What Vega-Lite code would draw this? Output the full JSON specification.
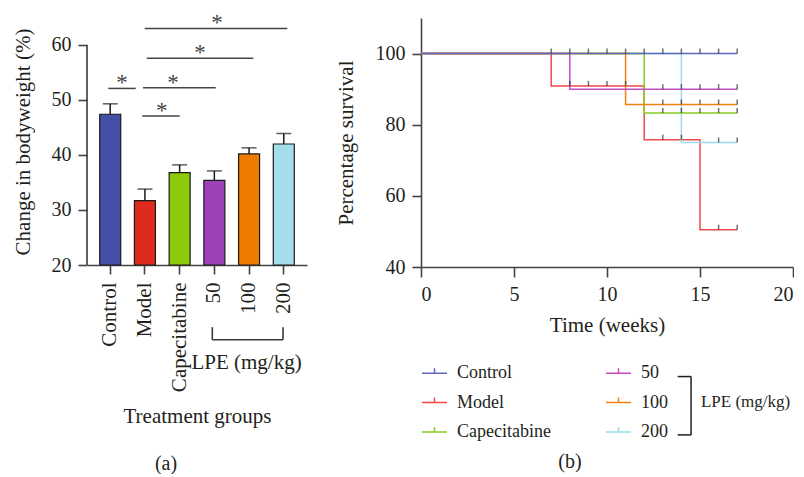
{
  "$schema": "https://vega.github.io/schema/vega-lite/v6.json",
  "padding": {"left": 12, "top": 12, "right": 0, "bottom": 0},
  "background": "white",
  "spacing": 114,
  "bounds": "flush",
  "resolve": {"scale": {"color": "independent"}, "legend": {"color": "independent"}},
  "config": {
    "view": {"stroke": null},
    "font": "Liberation Serif",
    "axis": {
      "labelFont": "Liberation Serif", "titleFont": "Liberation Serif",
      "labelColor": "#231f20", "titleColor": "#231f20",
      "labelFontSize": 20, "titleFontSize": 21, "titleFontWeight": "normal",
      "domainColor": "#444444", "tickColor": "#444444",
      "domainWidth": 1.6, "tickWidth": 1.6, "tickSize": 9, "labelPadding": 7, "grid": false
    },
    "legend": {"labelFont": "Liberation Serif"},
    "title": {"font": "Liberation Serif", "fontSize": 20, "fontWeight": "normal", "color": "#231f20"},
    "text": {"font": "Liberation Serif"}
  },
  "hconcat": [
    {
      "width": 220,
      "height": 247,
      "title": {"text": "(a)", "orient": "bottom", "anchor": "middle", "frame": "group", "dx": -31, "offset": 27},
      "resolve": {"scale": {"x": "independent"}},
      "layer": [
        {
          "data": {"values": [
            {"group": "Control", "mean": 47.4, "upper": 49.3},
            {"group": "Model", "mean": 31.7, "upper": 33.8},
            {"group": "Capecitabine", "mean": 36.8, "upper": 38.2},
            {"group": "50", "mean": 35.4, "upper": 37.1},
            {"group": "100", "mean": 40.2, "upper": 41.3},
            {"group": "200", "mean": 42.0, "upper": 43.9}
          ]},
          "encoding": {
            "x": {
              "field": "group", "type": "nominal", "sort": null,
              "scale": {"domain": ["Control", "Model", "Capecitabine", "50", "100", "200"], "paddingInner": 0.395, "paddingOuter": 0.366},
              "axis": {"title": "Treatment groups", "labelAngle": -90, "labelFontSize": 21, "labelPadding": 8, "titlePadding": 14}
            }
          },
          "layer": [
            {
              "mark": {"type": "bar", "stroke": "#1a1a1a", "strokeWidth": 1.2},
              "encoding": {
                "y": {
                  "field": "mean", "type": "quantitative",
                  "scale": {"domain": [20, 64.9], "nice": false, "zero": false},
                  "axis": {"title": "Change in bodyweight (%)", "values": [20, 30, 40, 50, 60], "domain": false, "titlePadding": 18}
                },
                "y2": {"datum": 20},
                "color": {
                  "field": "group", "type": "nominal",
                  "scale": {"domain": ["Control", "Model", "Capecitabine", "50", "100", "200"], "range": ["#444fa5", "#dd2c1e", "#8dc90c", "#9c41b6", "#ef7b02", "#a5deeb"]},
                  "legend": null
                }
              }
            },
            {
              "mark": {"type": "rule", "color": "#1a1a1a", "strokeWidth": 1.5},
              "encoding": {
                "y": {"field": "mean", "type": "quantitative"},
                "y2": {"field": "upper"}
              }
            },
            {
              "mark": {"type": "tick", "orient": "horizontal", "size": 15, "thickness": 1.5, "color": "#1a1a1a"},
              "encoding": {
                "y": {"field": "upper", "type": "quantitative"}
              }
            }
          ]
        },
        {
          "layer": [
            {
              "data": {"values": [
                {"x1": -0.055, "x2": 0.735, "y": 52.1, "sx": 0.34},
                {"x1": 0.925, "x2": 2.003, "y": 47.1, "sx": 1.484},
                {"x1": 0.945, "x2": 3.04, "y": 52.2, "sx": 1.81},
                {"x1": 1.052, "x2": 4.124, "y": 57.6, "sx": 2.588},
                {"x1": 0.994, "x2": 5.104, "y": 63.0, "sx": 3.078}
              ]},
              "layer": [
                {
                  "mark": {"type": "rule", "color": "#444444", "strokeWidth": 1.5},
                  "encoding": {
                    "x": {"field": "x1", "type": "quantitative", "scale": {"domain": [-0.669, 5.671], "nice": false, "zero": false}, "axis": null},
                    "x2": {"field": "x2"},
                    "y": {"field": "y", "type": "quantitative"}
                  }
                },
                {
                  "mark": {"type": "text", "text": "*", "fontSize": 23, "baseline": "alphabetic", "dy": 2, "color": "#444444"},
                  "encoding": {
                    "x": {"field": "sx", "type": "quantitative", "axis": null},
                    "y": {"field": "y", "type": "quantitative"}
                  }
                }
              ]
            },
            {
              "data": {"values": [
                {"x1": -0.669, "x2": -0.669, "y1": 20, "y2": 60},
                {"x1": 2.942, "x2": 4.98, "y1": 6.4, "y2": 6.4},
                {"x1": 2.942, "x2": 2.942, "y1": 6.4, "y2": 8.7},
                {"x1": 4.98, "x2": 4.98, "y1": 6.4, "y2": 8.7}
              ]},
              "mark": {"type": "rule", "color": "#3a3a3a", "strokeWidth": 1.6},
              "encoding": {
                "x": {"field": "x1", "type": "quantitative", "axis": null},
                "x2": {"field": "x2"},
                "y": {"field": "y1", "type": "quantitative"},
                "y2": {"field": "y2"}
              }
            },
            {
              "data": {"values": [{"x": 3.928, "y": 2.2, "label": "LPE (mg/kg)"}]},
              "mark": {"type": "text", "fontSize": 21, "baseline": "middle", "align": "center", "color": "#231f20"},
              "encoding": {
                "x": {"field": "x", "type": "quantitative", "axis": null},
                "y": {"field": "y", "type": "quantitative"},
                "text": {"field": "label"}
              }
            }
          ]
        }
      ]
    },
    {
      "width": 372,
      "height": 249,
      "title": {"text": "(b)", "orient": "bottom", "anchor": "middle", "frame": "group", "dx": -37, "offset": 10},
      "layer": [
        {
          "data": {"values": [
            {"series": "Model", "week": 0, "pct": 100},
            {"series": "Model", "week": 7, "pct": 90.9},
            {"series": "Model", "week": 12, "pct": 75.8},
            {"series": "Model", "week": 15, "pct": 50.5},
            {"series": "Model", "week": 17, "pct": 50.5},
            {"series": "200", "week": 0, "pct": 100},
            {"series": "200", "week": 14, "pct": 75},
            {"series": "200", "week": 17, "pct": 75},
            {"series": "Capecitabine", "week": 0, "pct": 100},
            {"series": "Capecitabine", "week": 12, "pct": 83.3},
            {"series": "Capecitabine", "week": 17, "pct": 83.3},
            {"series": "100", "week": 0, "pct": 100},
            {"series": "100", "week": 11, "pct": 85.7},
            {"series": "100", "week": 17, "pct": 85.7},
            {"series": "50", "week": 0, "pct": 100},
            {"series": "50", "week": 8, "pct": 90},
            {"series": "50", "week": 17, "pct": 90},
            {"series": "Control", "week": 0, "pct": 100},
            {"series": "Control", "week": 17, "pct": 100}
          ]},
          "mark": {"type": "line", "interpolate": "step-after", "strokeWidth": 1.5},
          "encoding": {
            "x": {
              "field": "week", "type": "quantitative",
              "scale": {"domain": [0, 20], "nice": false, "zero": false},
              "axis": {"title": "Time (weeks)", "values": [0, 5, 10, 15, 20], "tickSize": 10, "titlePadding": 10}
            },
            "y": {
              "field": "pct", "type": "quantitative",
              "scale": {"domain": [40, 110], "nice": false, "zero": false},
              "axis": {"title": "Percentage survival", "values": [40, 60, 80, 100], "titlePadding": 19}
            },
            "color": {
              "field": "series", "type": "nominal",
              "scale": {"domain": ["Control", "Model", "Capecitabine", "50", "100", "200"], "range": ["#5b68bd", "#f04a4a", "#86cc22", "#c24cc4", "#f08212", "#98dcee"]},
              "legend": {
                "orient": "none", "legendX": 0, "legendY": 341.5, "direction": "vertical", "columns": 2,
                "title": null, "symbolType": "M-1,0H1M0,0V-0.4", "symbolSize": 625, "symbolStrokeWidth": 1.5,
                "labelFontSize": 18, "labelColor": "#231f20", "labelOffset": 9, "rowPadding": 6.5, "columnPadding": 52, "padding": 0
              }
            }
          }
        },
        {
          "data": {"values": [
            {"week": 7, "pct": 100}, {"week": 8, "pct": 100}, {"week": 9, "pct": 100}, {"week": 10, "pct": 100},
            {"week": 11, "pct": 100}, {"week": 12, "pct": 100}, {"week": 13, "pct": 100}, {"week": 14, "pct": 100},
            {"week": 15, "pct": 100}, {"week": 16, "pct": 100}, {"week": 17, "pct": 100},
            {"week": 8, "pct": 90.9}, {"week": 9, "pct": 90.9}, {"week": 10, "pct": 90.9}, {"week": 11, "pct": 90.9},
            {"week": 13, "pct": 90}, {"week": 14, "pct": 90}, {"week": 15, "pct": 90}, {"week": 16, "pct": 90}, {"week": 17, "pct": 90},
            {"week": 13, "pct": 85.7}, {"week": 14, "pct": 85.7}, {"week": 15, "pct": 85.7}, {"week": 16, "pct": 85.7}, {"week": 17, "pct": 85.7},
            {"week": 13, "pct": 83.3}, {"week": 14, "pct": 83.3}, {"week": 15, "pct": 83.3}, {"week": 16, "pct": 83.3}, {"week": 17, "pct": 83.3},
            {"week": 13, "pct": 75.8}, {"week": 14, "pct": 75.8},
            {"week": 16, "pct": 75}, {"week": 17, "pct": 75},
            {"week": 16, "pct": 50.5}, {"week": 17, "pct": 50.5}
          ]},
          "mark": {"type": "tick", "orient": "vertical", "size": 5, "thickness": 1.5, "color": "#333333", "yOffset": -2.5},
          "encoding": {
            "x": {"field": "week", "type": "quantitative"},
            "y": {"field": "pct", "type": "quantitative"}
          }
        },
        {
          "data": {"values": [
            {"x1": 13.8, "x2": 14.52, "y1": 9.2, "y2": 9.2},
            {"x1": 13.8, "x2": 14.52, "y1": -7.2, "y2": -7.2},
            {"x1": 14.52, "x2": 14.52, "y1": 9.2, "y2": -7.2}
          ]},
          "mark": {"type": "rule", "color": "#231f20", "strokeWidth": 1.5},
          "encoding": {
            "x": {"field": "x1", "type": "quantitative"},
            "x2": {"field": "x2"},
            "y": {"field": "y1", "type": "quantitative"},
            "y2": {"field": "y2"}
          }
        },
        {
          "data": {"values": [{"x": 15.05, "y": 2.1, "label": "LPE (mg/kg)"}]},
          "mark": {"type": "text", "fontSize": 17, "baseline": "middle", "align": "left", "color": "#231f20"},
          "encoding": {
            "x": {"field": "x", "type": "quantitative"},
            "y": {"field": "y", "type": "quantitative"},
            "text": {"field": "label"}
          }
        }
      ]
    }
  ]
}
